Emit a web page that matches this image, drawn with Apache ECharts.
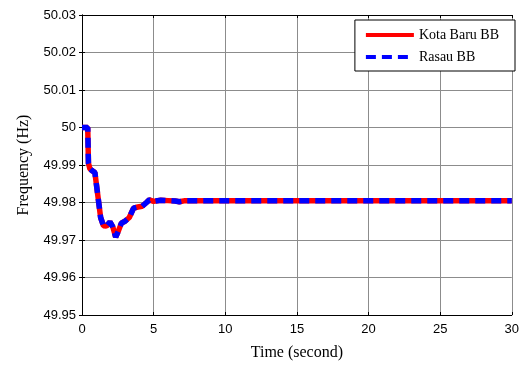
<!DOCTYPE html>
<html><head><meta charset="utf-8">
<script src="https://cdn.jsdelivr.net/npm/echarts@6/dist/echarts.min.js"></script>
<style>html,body{margin:0;padding:0;background:#fff}#c{width:522px;height:369px}</style>
</head><body><div id="c"></div>
<script>
var time = [0, 0.4, 0.45, 0.55, 0.7, 0.9, 1.1, 1.3, 1.5, 1.7, 1.95, 2.15, 2.35, 2.55, 2.75, 3.0, 3.3, 3.6, 3.9, 4.2, 4.5, 4.7, 5.0, 5.5, 6.0, 6.5, 6.8, 7.2, 8, 30];
var kotaBaru = [50, 50, 49.9905, 49.989, 49.9885, 49.988, 49.982, 49.976, 49.9738, 49.9737, 49.9748, 49.9735, 49.9708, 49.9725, 49.9745, 49.975, 49.976, 49.9785, 49.9788, 49.979, 49.980, 49.9807, 49.9803, 49.9806, 49.9805, 49.9804, 49.9802, 49.9805, 49.9805, 49.9805];
var rasau = [50, 50, 49.9905, 49.989, 49.9885, 49.988, 49.982, 49.976, 49.9738, 49.9737, 49.9748, 49.9735, 49.9708, 49.9725, 49.9745, 49.975, 49.976, 49.9785, 49.9788, 49.979, 49.980, 49.9807, 49.9803, 49.9806, 49.9805, 49.9804, 49.9802, 49.9805, 49.9805, 49.9805];
var seriesNames = ['Kota Baru BB', 'Rasau BB'];
function pairs(xs, ys){ return xs.map(function(x,i){ return [x, ys[i]]; }); }
var chart = echarts.init(document.getElementById('c'));
var tickFont = {fontFamily:'Liberation Sans, Arial', fontSize:13, color:'#000'};
chart.setOption({
  animation:false,
  grid:{left:82, right:8, top:15, bottom:54},
  legend:{
    right:7, top:20, orient:'vertical', itemWidth:48, itemHeight:10, itemGap:8,
    backgroundColor:'#fff', borderColor:'#000', borderWidth:1, padding:[8,16,7,9],
    textStyle:{fontFamily:'Liberation Serif, Times New Roman', fontSize:14, color:'#000'},
    itemStyle:{color:'transparent', borderWidth:0, opacity:0},
    lineStyle:{width:4},
    data:seriesNames
  },
  xAxis:[{
    type:'value', min:0, max:30, interval:5,
    name:'Time (second)', nameLocation:'middle', nameGap:30,
    nameTextStyle:{fontFamily:'Liberation Serif, Times New Roman', fontSize:16, color:'#000'},
    axisLine:{lineStyle:{color:'#000', width:1}},
    axisTick:{inside:true, length:3, lineStyle:{color:'#000'}},
    axisLabel:Object.assign({margin:8}, tickFont),
    splitLine:{show:true, lineStyle:{color:'#8c8c8c', width:1}}
  },{
    type:'value', min:0, max:30, interval:5, position:'top',
    axisLine:{show:true, lineStyle:{color:'#000'}},
    axisTick:{inside:true, length:3, lineStyle:{color:'#000'}},
    axisLabel:{show:false}, splitLine:{show:false}
  }],
  yAxis:[{
    type:'value', min:49.95, max:50.03, interval:0.01,
    name:'Frequency (Hz)', nameLocation:'middle', nameGap:50,
    nameTextStyle:{fontFamily:'Liberation Serif, Times New Roman', fontSize:16, color:'#000'},
    axisLine:{show:true, lineStyle:{color:'#000', width:1}},
    axisTick:{show:true, inside:true, length:3, lineStyle:{color:'#000'}},
    axisLabel:Object.assign({margin:6, formatter:function(v){ return String(parseFloat(v.toFixed(2))); }}, tickFont),
    splitLine:{show:true, lineStyle:{color:'#8c8c8c', width:1}}
  },{
    type:'value', min:49.95, max:50.03, interval:0.01, position:'right',
    axisLine:{show:true, lineStyle:{color:'#000'}},
    axisTick:{show:true, inside:true, length:3, lineStyle:{color:'#000'}},
    axisLabel:{show:false}, splitLine:{show:false}
  }],
  series:[{
    name:seriesNames[0], type:'line', data:pairs(time, kotaBaru), symbol:'none',
    lineStyle:{color:'#ff0000', width:5.5, type:'solid'}, itemStyle:{color:'#ff0000'}
  },{
    name:seriesNames[1], type:'line', data:pairs(time, rasau), symbol:'none',
    lineStyle:{color:'#0000ff', width:5.5, type:[10,6]}, itemStyle:{color:'#0000ff'}
  }]
});
</script></body></html>
